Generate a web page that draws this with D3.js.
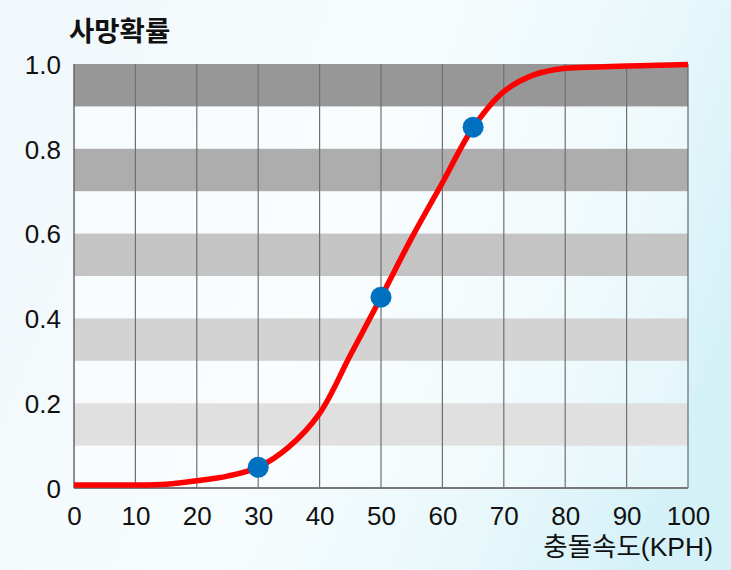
<!DOCTYPE html>
<html><head><meta charset="utf-8">
<script src="https://cdn.jsdelivr.net/npm/d3@7"></script>
<style>html,body{margin:0;padding:0;overflow:hidden;background:#fff}</style>
</head><body>
<script>
// ---- data ----
const speeds = [0,5,10,15,20,25,30,35,40,45,50,55,60,65,70,75,80,85,90,95,100];
const deathProb = [0.007,0.007,0.007,0.009,0.017,0.028,0.049,0.097,0.176,0.313,0.45,0.59,0.72,0.85,0.935,0.975,0.99,0.993,0.995,0.997,0.999];
const markerSpeeds = [30,50,65];
const markerProbs = [0.049,0.45,0.851];
const xTicks = [0,10,20,30,40,50,60,70,80,90,100];
const yTicks = [0,0.2,0.4,0.6,0.8,1.0];
const yTickLabels = ["0","0.2","0.4","0.6","0.8","1.0"];
const bandStarts = [0.1,0.3,0.5,0.7,0.9];
const bandColors = ["#e0e0e0","#d3d3d3","#c4c4c4","#adadad","#979797"];
const yTitle = "사망확률";
const xTitle = "충돌속도(KPH)";

const W = 731, H = 570;
const svg = d3.select("body").append("svg").attr("width",W).attr("height",H);
const defs = svg.append("defs");
const g = defs.append("linearGradient").attr("id","bg").attr("x1","0").attr("y1","0.3").attr("x2","1").attr("y2","0.6");
g.append("stop").attr("offset","0").attr("stop-color","#f1f8fb");
g.append("stop").attr("offset","0.45").attr("stop-color","#f7fcfe");
g.append("stop").attr("offset","0.75").attr("stop-color","#eaf8fb");
g.append("stop").attr("offset","1").attr("stop-color","#d4f1f8");
svg.append("rect").attr("width",W).attr("height",H).attr("fill","url(#bg)");

const x = d3.scaleLinear().domain([0,100]).range([74,688]);
const y = d3.scaleLinear().domain([0,1]).range([488,64]);

// white translucent plot background
svg.append("rect").attr("x",x(0)).attr("y",y(1)).attr("width",x(100)-x(0)).attr("height",y(0)-y(1))
  .attr("fill","#ffffff").attr("opacity",0.35);
// gray bands
svg.selectAll("rect.band").data(bandStarts).join("rect").attr("class","band")
  .attr("x",x(0)).attr("width",x(100)-x(0))
  .attr("y",d=>y(d+0.1)).attr("height",d=>y(d)-y(d+0.1))
  .attr("fill",(d,i)=>bandColors[i]);

// vertical gridlines
svg.selectAll("line.vg").data(xTicks).join("line").attr("class","vg")
  .attr("x1",d=>x(d)).attr("x2",d=>x(d)).attr("y1",y(1)).attr("y2",y(0))
  .attr("stroke",d=>d===0||d===100?"#6a6a6a":"#707070").attr("stroke-width",d=>d===0?1.5:1.2);
// bottom axis line
svg.append("line").attr("x1",x(0)).attr("x2",x(100)).attr("y1",y(0)).attr("y2",y(0))
  .attr("stroke","#777").attr("stroke-width",2);

// x axis labels
const xAxis = d3.axisBottom(x).tickValues(xTicks).tickSize(0).tickPadding(0).tickFormat(d3.format("d"));
const xg = svg.append("g").attr("transform",`translate(0,${y(0)+19})`).call(xAxis);
xg.select(".domain").remove();
xg.selectAll("text").attr("font-family","'Liberation Sans', Arial, sans-serif").attr("font-size",26).attr("fill","#111").attr("dy","0.71em");

// y axis labels
const yAxis = d3.axisLeft(y).tickValues(yTicks).tickSize(0).tickPadding(0).tickFormat((d,i)=>yTickLabels[i]);
const yg = svg.append("g").attr("transform",`translate(${x(0)-13},0)`).call(yAxis);
yg.select(".domain").remove();
yg.selectAll("text").attr("font-family","'Liberation Sans', Arial, sans-serif").attr("font-size",26).attr("fill","#111").attr("dy","0.36em");

// curve
const line = d3.line().x((d,i)=>x(speeds[i])).y(d=>y(d)).curve(d3.curveCatmullRom.alpha(0.5));
svg.append("path").attr("d",line(deathProb)).attr("fill","none").attr("stroke","#ff0000")
  .attr("stroke-width",5.5).attr("stroke-linejoin","round");

// markers
svg.selectAll("circle.m").data(markerSpeeds).join("circle").attr("class","m")
  .attr("cx",d=>x(d)).attr("cy",(d,i)=>y(markerProbs[i])).attr("r",10.5).attr("fill","#0070c0");

// titles
svg.append("text").attr("x",69).attr("y",41).text(yTitle)
  .attr("font-family","'Liberation Sans', 'Noto Sans CJK KR', sans-serif").attr("font-weight",700).attr("font-size",27.5).attr("fill","#111");
svg.append("text").attr("x",713).attr("y",556).attr("text-anchor","end").text(xTitle)
  .attr("font-family","'Liberation Sans', 'Noto Sans CJK KR', sans-serif").attr("font-weight",400).attr("font-size",26.5).attr("fill","#111");
</script>
</body></html>
